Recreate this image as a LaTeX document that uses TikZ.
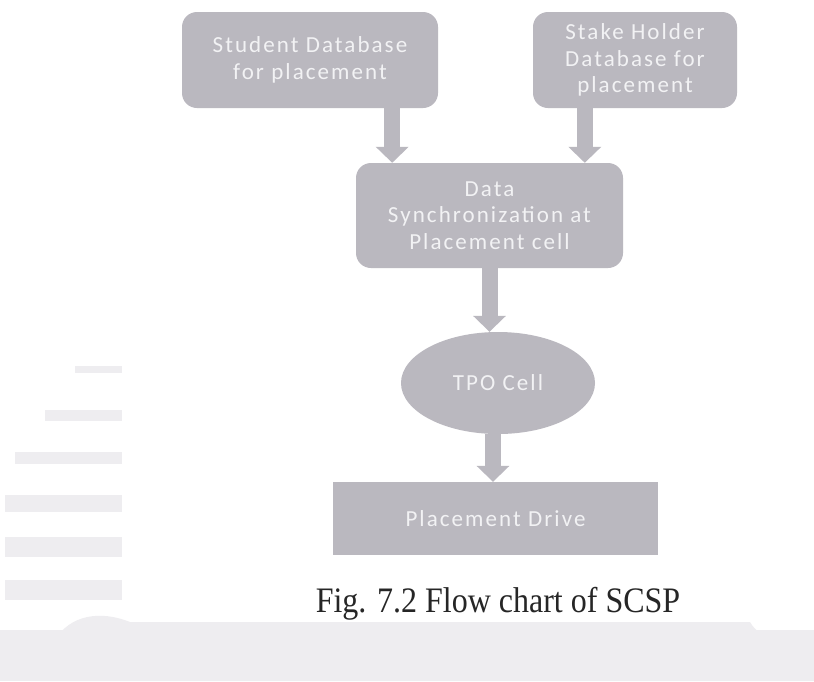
\documentclass[tikz,border=0pt]{standalone}
\usepackage{fontspec}
\setmainfont{Liberation Serif}
\newfontfamily\boxfont[LetterSpace=9]{Carlito}
\usetikzlibrary{arrows.meta,shapes.geometric}
\definecolor{boxgray}{RGB}{186,184,191}
\definecolor{boxtext}{RGB}{242,242,244}
\definecolor{wm}{RGB}{238,237,240}
\tikzset{
  flowbox/.style={draw=none, fill=boxgray, text=boxtext, align=center,
    font=\boxfont\fontsize{23}{26.5}\selectfont, inner sep=0pt},
  roundbox/.style={flowbox, rounded corners=15pt},
  flowarrow/.style={draw=boxgray, line width=16pt, -{Triangle[width=32pt,length=16pt]}},
  mark line/.style={fill=wm, draw=none}
}
\begin{document}
\begin{tikzpicture}[x=1pt,y=-1pt]
\useasboundingbox (0,0) rectangle (814,681);
\fill[white] (0,0) rectangle (814,681);
% faint scan background
\fill[mark line] (75,366) rectangle (122,373);
\fill[mark line] (45,410) rectangle (122,421);
\fill[mark line] (15,452) rectangle (122,464);
\fill[mark line] (5,495) rectangle (122,512);
\fill[mark line] (5,537) rectangle (122,557);
\fill[mark line] (5,580) rectangle (122,600);
\fill[wm] (0,630) rectangle (814,681);
\fill[wm] (55,640) .. controls (70,615) and (100,610) .. (130,622) -- (750,622) .. controls (760,640) and (790,650) .. (814,652) -- (814,681) -- (40,681) -- cycle;
% nodes
\node[roundbox, minimum width=256pt, minimum height=96pt] (s) at (310,60) {Student Database\\for placement};
\node[roundbox, minimum width=204pt, minimum height=96pt] (h) at (635,60) {Stake Holder\\Database for\\placement};
\node[roundbox, minimum width=267pt, minimum height=105pt] (d) at (489.5,215.5) {Data\\Synchronization at\\Placement cell};
\node[flowbox, ellipse, minimum width=194pt, minimum height=102pt] (t) at (498,383) {TPO Cell};
\node[flowbox, minimum width=325pt, minimum height=73pt] (p) at (495.5,518.5) {Placement Drive};
\node[font=\fontsize{32}{35}\selectfont, text=black!85, yscale=1.12] (c) at (498,604) {Fig. 7.2 Flow chart of SCSP};
% connectors
\draw[flowarrow] ([xshift=-46pt]s.south east) -- ([xshift=-46pt]s.south east |- d.north);
\draw[flowarrow] ([xshift=52pt]h.south west) -- ([xshift=52pt]h.south west |- d.north);
\draw[flowarrow] (d.south) -- (d.south |- t.north);
\draw[flowarrow] ([xshift=-5pt]t.south) -- ([xshift=-5pt]t.south |- p.north);
\end{tikzpicture}
\end{document}
